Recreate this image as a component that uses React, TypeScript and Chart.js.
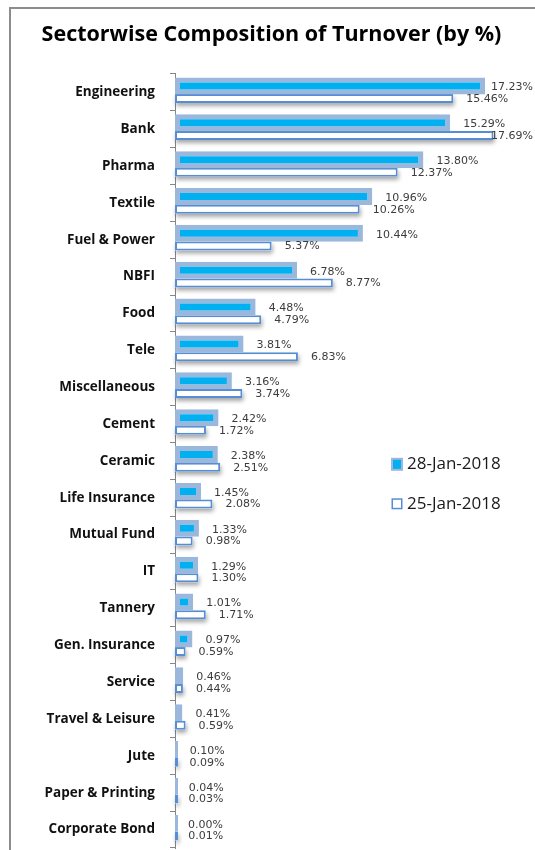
import React, { useEffect, useRef } from "react";
import { Chart, registerables } from "chart.js";

Chart.register(...registerables);

const titleText = "Sectorwise Composition of Turnover (by %)";

const categories = [
  "Engineering",
  "Bank",
  "Pharma",
  "Textile",
  "Fuel & Power",
  "NBFI",
  "Food",
  "Tele",
  "Miscellaneous",
  "Cement",
  "Ceramic",
  "Life Insurance",
  "Mutual Fund",
  "IT",
  "Tannery",
  "Gen. Insurance",
  "Service",
  "Travel & Leisure",
  "Jute",
  "Paper & Printing",
  "Corporate Bond",
];

const seriesNames = ["28-Jan-2018", "25-Jan-2018"];

const jan28 = [
  17.23, 15.29, 13.8, 10.96, 10.44, 6.78, 4.48, 3.81, 3.16, 2.42, 2.38, 1.45,
  1.33, 1.29, 1.01, 0.97, 0.46, 0.41, 0.1, 0.04, 0.0,
];

const jan25 = [
  15.46, 17.69, 12.37, 10.26, 5.37, 8.77, 4.79, 6.83, 3.74, 1.72, 2.51, 2.08,
  0.98, 1.3, 1.71, 0.59, 0.44, 0.59, 0.09, 0.03, 0.01,
];

const xMin = 0;
const xMax = 20;

const CYAN = "#00B0F0";
const GLOW = "#9BB7DC";
const BLUE = "#558ED5";

const framePlugin = {
  id: "frame",
  beforeDraw(chart: any) {
    const ctx = chart.ctx;
    ctx.save();
    ctx.fillStyle = "#ffffff";
    ctx.fillRect(0, 0, chart.width, chart.height);
    ctx.strokeStyle = "#8c8c8c";
    ctx.lineWidth = 2;
    ctx.strokeRect(10, 8, chart.width + 40, chart.height + 40);
    ctx.restore();
  },
};

const shadowPlugin = {
  id: "barShadow",
  beforeDatasetsDraw(chart: any) {
    const ctx = chart.ctx;
    const meta = chart.getDatasetMeta(1);
    ctx.save();
    ctx.shadowColor = "rgba(0,0,0,0.35)";
    ctx.shadowBlur = 4;
    ctx.shadowOffsetY = 3;
    ctx.shadowOffsetX = 1;
    ctx.fillStyle = "#ffffff";
    meta.data.forEach((bar: any) => {
      const p = bar.getProps(["x", "y", "base", "height"], true);
      const left = Math.min(p.x, p.base);
      const w = Math.max(Math.abs(p.x - p.base), 2);
      ctx.fillRect(left, p.y - p.height / 2, w, p.height);
    });
    ctx.restore();
  },
};

const labelPlugin = {
  id: "valueLabels",
  afterDatasetsDraw(chart: any) {
    const ctx = chart.ctx;
    const area = chart.chartArea;
    const xs = chart.scales.x;
    ctx.save();
    ctx.font = "11px 'DejaVu Sans'";
    ctx.fillStyle = "#3c3c3c";
    ctx.textAlign = "left";
    ctx.textBaseline = "middle";
    chart.data.datasets.forEach((ds: any, di: number) => {
      const meta = chart.getDatasetMeta(di);
      meta.data.forEach((bar: any, i: number) => {
        const v = ds.data[i];
        const text = v.toFixed(2) + "%";
        const w = ctx.measureText(text).width;
        let x = xs.getPixelForValue(v) + 13;
        if (x + w > area.right - 2) x = area.right - 2 - w;
        const y = bar.y + (di === 0 ? 1.5 : 0.5);
        ctx.fillText(text, x, y);
      });
    });
    ctx.restore();
  },
};

const legendPlugin = {
  id: "customLegend",
  afterDraw(chart: any) {
    const ctx = chart.ctx;
    const area = chart.chartArea;
    const ds = chart.data.datasets;
    const mx = area.right - 144;
    const rows = [area.top + 390.5, area.top + 430];
    ctx.save();
    // marker 1
    ctx.fillStyle = ds[0].borderColor;
    ctx.fillRect(mx, rows[0] - 6.5, 12, 13);
    ctx.fillStyle = ds[0].backgroundColor;
    ctx.fillRect(mx + 2, rows[0] - 4.5, 8, 9);
    // marker 2
    ctx.fillStyle = ds[1].backgroundColor;
    ctx.fillRect(mx + 1, rows[1] - 5, 10, 10);
    ctx.strokeStyle = ds[1].borderColor;
    ctx.lineWidth = 1.5;
    ctx.strokeRect(mx + 1.25, rows[1] - 4.75, 9.5, 9.5);
    ctx.font = "17px 'Open Sans'";
    ctx.fillStyle = "#1a1a1a";
    ctx.textAlign = "left";
    ctx.textBaseline = "middle";
    ctx.fillText(ds[0].label, mx + 16, rows[0]);
    ctx.fillText(ds[1].label, mx + 16, rows[1]);
    ctx.restore();
  },
};

export default function App() {
  const canvasRef = useRef<HTMLCanvasElement | null>(null);

  useEffect(() => {
    const canvas = canvasRef.current;
    if (!canvas) return;
    const chart = new Chart(canvas, {
      type: "bar",
      data: {
        labels: categories,
        datasets: [
          {
            label: seriesNames[0],
            data: jan28,
            backgroundColor: CYAN,
            borderColor: GLOW,
            borderWidth: 5,
            borderSkipped: false,
            maxBarThickness: 17,
            minBarLength: 3,
          },
          {
            label: seriesNames[1],
            data: jan25,
            backgroundColor: "#ffffff",
            borderColor: BLUE,
            borderWidth: 2,
            borderSkipped: false,
            maxBarThickness: 9,
            minBarLength: 3,
          },
        ],
      },
      options: {
        indexAxis: "y",
        responsive: false,
        animation: false,
        devicePixelRatio: 1,
        datasets: {
          bar: {
            categoryPercentage: 0.6864,
            barPercentage: 1.4,
          },
        },
        layout: {
          padding: { left: 8, right: 0, top: 0, bottom: 2 },
        },
        scales: {
          x: {
            type: "linear",
            min: xMin,
            max: xMax,
            display: false,
          },
          y: {
            type: "category",
            position: "left",
            offset: true,
            afterFit: (scale: any) => {
              scale.width = 167;
              scale.paddingTop = 0;
              scale.paddingBottom = 0;
            },
            grid: {
              display: true,
              drawOnChartArea: false,
              drawTicks: true,
              tickLength: 5,
              offset: true,
              color: "#868686",
            },
            border: {
              display: true,
              color: "#868686",
              width: 1,
            },
            ticks: {
              padding: 15,
              color: "#111111",
              font: { family: "'Open Sans'", size: 13.5, weight: "bold" },
              autoSkip: false,
            },
          },
        },
        plugins: {
          legend: { display: false },
          tooltip: { enabled: false },
          title: {
            display: true,
            text: titleText,
            color: "#000000",
            font: { family: "'Open Sans'", size: 21.5, weight: "bold" },
            padding: { top: 22, bottom: 26 },
          },
        },
      },
      plugins: [framePlugin, shadowPlugin, labelPlugin, legendPlugin],
    } as any);
    return () => chart.destroy();
  }, []);

  return (
    <div style={{ position: "absolute", left: 0, top: 0, width: 535, height: 850, background: "#fff" }}>
      <canvas ref={canvasRef} width={535} height={850} style={{ display: "block" }} />
    </div>
  );
}
